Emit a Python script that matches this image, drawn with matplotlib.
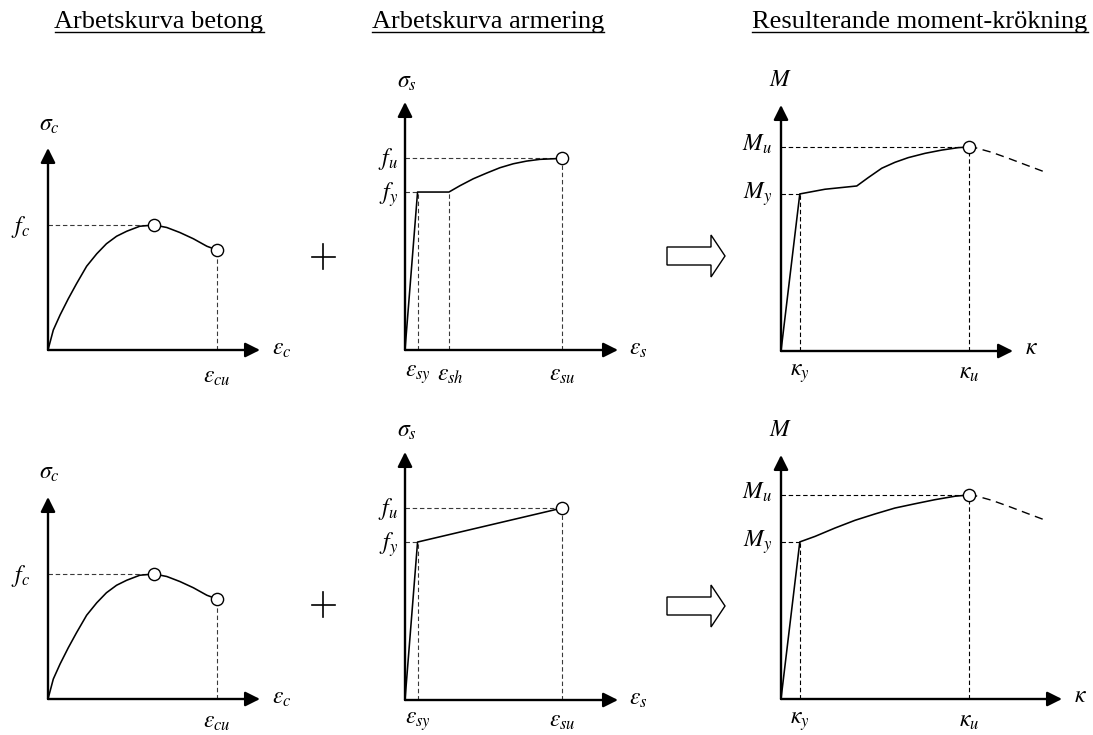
import matplotlib
matplotlib.use("Agg")
import matplotlib.pyplot as plt
import matplotlib.transforms as mtransforms
from matplotlib.lines import Line2D
from matplotlib.patches import Polygon

plt.rcParams['font.family'] = ['Liberation Serif', 'DejaVu Serif']
plt.rcParams['mathtext.fontset'] = 'stix'

W, H = 1093, 735

titles = ['Arbetskurva betong', 'Arbetskurva armering', 'Resulterande moment-krökning']
title_x = [159, 488, 920]

# betong: töjning i promille, spänning relativt fc
conc_eps = [0, 0.11, 0.25, 0.42, 0.59, 0.80, 1.01, 1.21, 1.42, 1.63, 1.90, 2.2,
            2.46, 2.73, 3.01, 3.29, 3.5]
conc_sig = [0, 0.16, 0.28, 0.41, 0.53, 0.67, 0.77, 0.85, 0.91, 0.95, 0.99, 1.0,
            0.98, 0.94, 0.89, 0.83, 0.80]
eps_c1 = 2.2
eps_cu = 3.5
f_c = 1.0

# armering: töjning relativt eps_su, spänning relativt fy
eps_sy = 0.08
eps_sh = 0.28
eps_su = 1.0
f_y = 1.0
f_u = 1.215
hard_eps = [0.28, 0.35, 0.435, 0.52, 0.605, 0.69, 0.775, 0.86, 0.955, 1.0]
hard_sig = [1.0, 1.04, 1.084, 1.12, 1.154, 1.179, 1.196, 1.207, 1.211, 1.215]

# moment-krökning relativt kappa_u och M_u
kap_y, kap_u = 0.1, 1.0
M_y, M_u = 0.77, 1.0
mk1_kap = [0, 0.1, 0.234, 0.403, 0.464, 0.536, 0.606, 0.677, 0.766, 0.855, 0.943, 1.0]
mk1_M = [0, 0.77, 0.793, 0.809, 0.850, 0.896, 0.925, 0.948, 0.969, 0.985, 0.997, 1.0]
mk2_kap = [0, 0.1, 0.181, 0.287, 0.394, 0.5, 0.606, 0.713, 0.819, 0.926, 1.0]
mk2_M = [0, 0.77, 0.797, 0.838, 0.876, 0.907, 0.936, 0.957, 0.977, 0.994, 1.0]
soft_kap = [1.0, 1.032, 1.121, 1.209, 1.315, 1.408]
soft_M = [1.0, 0.997, 0.974, 0.945, 0.908, 0.876]

fig = plt.figure(figsize=(W / 100, H / 100), dpi=100)
# pixel coordinates (origin top left) -> figure
pix = mtransforms.Affine2D().scale(1 / W, -1 / H).translate(0, 1) + fig.transFigure

FS = 17
LW = 1.15
GUIDE = dict(color='#3a3a3a', lw=0.8, ls=(0, (4, 2.5)), zorder=2, clip_on=False)
GUIDE_M = dict(GUIDE, color='black')
CIRC = dict(marker='o', ms=8.8, mfc='white', mec='black', mew=1.0, ls='none',
            zorder=5, clip_on=False)


def panel(x0, y0, w, h, xmax, ymax):
    ax = fig.add_axes([x0 / W, 1 - y0 / H, w / W, h / H])
    ax.set_xlim(0, xmax)
    ax.set_ylim(0, ymax)
    ax.axis('off')
    for end in [(1, 0), (0, 1)]:
        ax.annotate('', xy=end, xytext=(0, 0), xycoords='axes fraction',
                    arrowprops=dict(arrowstyle='-|>,head_length=0.4,head_width=0.2',
                                    mutation_scale=22, lw=1.7, color='black',
                                    shrinkA=0, shrinkB=0))
    return ax


def lab(ax, s, xy, off, ha='center', va='center', coords='data'):
    ax.annotate(s, xy=xy, xycoords=coords, xytext=off, textcoords='offset pixels',
                ha=ha, va=va, fontsize=FS, annotation_clip=False)


def plus(cx, cy):
    fig.add_artist(Line2D([cx - 11.5, cx + 11.5], [cy, cy], transform=pix, lw=1.2, color='black'))
    fig.add_artist(Line2D([cx, cx], [cy - 12.5, cy + 12.5], transform=pix, lw=1.2, color='black'))


def block_arrow(x0, cy):
    pts = [(x0, cy - 9), (x0 + 44, cy - 9), (x0 + 44, cy - 21), (x0 + 58, cy),
           (x0 + 44, cy + 21), (x0 + 44, cy + 9), (x0, cy + 9)]
    fig.add_artist(Polygon(pts, closed=True, transform=pix, facecolor='white',
                           edgecolor='black', lw=1.0))


for row, oy in enumerate([350, 699]):
    # betong
    ax = panel(48, oy, 212, 202, 4.39, 1.616)
    ax.plot(conc_eps, conc_sig, color='black', lw=LW, zorder=3)
    ax.plot([0, eps_c1], [f_c, f_c], **GUIDE)
    ax.plot([eps_cu, eps_cu], [0, conc_sig[-1]], **GUIDE)
    ax.plot([eps_c1, eps_cu], [f_c, conc_sig[-1]], **CIRC)
    lab(ax, r'$\sigma_c$', (0, 1), (1, 23), coords='axes fraction')
    lab(ax, r'$f_c$', (0, f_c), (-18, -2), ha='right')
    lab(ax, r'$\varepsilon_c$', (1, 0), (12, 0), ha='left', coords='axes fraction')
    lab(ax, r'$\varepsilon_{cu}$', (eps_cu, 0), (0, -28 + 4 * row))

    # armering
    ax = panel(405, oy + row, 213, 248, 1.357, 1.57)
    if row == 0:
        xs = [0, eps_sy] + hard_eps
        ys = [0, f_y] + hard_sig
    else:
        xs = [0, eps_sy, eps_su]
        ys = [0, f_y, f_u]
    ax.plot(xs, ys, color='black', lw=LW, zorder=3)
    ax.plot([0, eps_su], [f_u, f_u], **GUIDE)
    ax.plot([0, eps_sy], [f_y, f_y], **GUIDE)
    ax.plot([eps_sy, eps_sy], [0, f_y], **GUIDE)
    ax.plot([eps_su, eps_su], [0, f_u], **GUIDE)
    ax.plot([eps_su], [f_u], **CIRC)
    lab(ax, r'$\sigma_s$', (0, 1), (2, 20), coords='axes fraction')
    lab(ax, r'$f_u$', (0, f_u), (-7, -1), ha='right')
    lab(ax, r'$f_y$', (0, f_y), (-7, -3), ha='right')
    lab(ax, r'$\varepsilon_s$', (1, 0), (11, 0), ha='left', coords='axes fraction')
    lab(ax, r'$\varepsilon_{sy}$', (eps_sy, 0), (0, -25 + 3 * row))
    lab(ax, r'$\varepsilon_{su}$', (eps_su, 0), (0, -25 + 3 * row))
    if row == 0:
        ax.plot([eps_sh, eps_sh], [0, f_y], **GUIDE)
        lab(ax, r'$\varepsilon_{sh}$', (eps_sh, 0), (1, -25))

    # moment-krökning
    if row == 0:
        ax = panel(781, 351, 232, 246, 1.234, 1.206)
        ax.plot(mk1_kap, mk1_M, color='black', lw=LW, zorder=3)
    else:
        ax = panel(781, 699, 281, 244, 1.495, 1.196)
        ax.plot(mk2_kap, mk2_M, color='black', lw=LW, zorder=3)
    ax.plot(soft_kap, soft_M, color='black', lw=1.0, ls=(0, (6, 4)), zorder=3, clip_on=False)
    ax.plot([0, kap_u], [M_u, M_u], **GUIDE_M)
    ax.plot([0, kap_y], [M_y, M_y], **GUIDE_M)
    ax.plot([kap_y, kap_y], [0, M_y], **GUIDE_M)
    ax.plot([kap_u, kap_u], [0, M_u], **GUIDE_M)
    ax.plot([kap_u], [M_u], **CIRC)
    lab(ax, r'$M$', (0, 1), (0, 25), coords='axes fraction')
    lab(ax, r'$M_u$', (0, M_u), (-9, 3), ha='right')
    lab(ax, r'$M_y$', (0, M_y), (-9, 0), ha='right')
    lab(ax, r'$\kappa$', (1, 0), (12, 2), ha='left', coords='axes fraction')
    lab(ax, r'$\kappa_y$', (kap_y, 0), (0, -23))
    lab(ax, r'$\kappa_u$', (kap_u, 0), (0, -23))

    plus(323, 257 + 348 * row)
    block_arrow(667, 256 + 350 * row)

# understrukna rubriker
texts = [fig.text(x / W, 1 - 28 / H, t, ha='center', va='baseline', fontsize=19)
         for x, t in zip(title_x, titles)]
fig.canvas.draw()
for t in texts:
    bb = t.get_window_extent()
    fig.add_artist(Line2D([bb.x0 / fig.bbox.width, bb.x1 / fig.bbox.width],
                          [1 - 32 / H, 1 - 32 / H], transform=fig.transFigure,
                          lw=1.0, color='black'))

fig.savefig('out.png', dpi=100, facecolor='white')
